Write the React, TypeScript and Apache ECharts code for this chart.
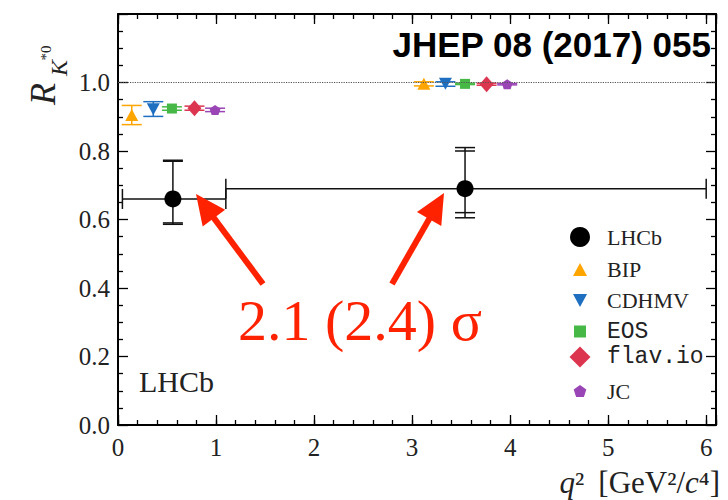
import React, { useEffect, useRef } from 'react';
import * as echarts from 'echarts';

// ---- LHCb measurement ----
const lhcbBinLow = [0.045, 1.1];
const lhcbBinHigh = [1.1, 6.0];
const lhcbQ2 = [0.56, 3.54];
const lhcbR = [0.66, 0.69];
const lhcbStatUp = [0.11, 0.11];
const lhcbStatDown = [0.07, 0.07];
const lhcbTotUp = [0.113, 0.12];
const lhcbTotDown = [0.074, 0.085];

// ---- theory predictions ----
const models = ['BIP', 'CDHMV', 'EOS', 'flav.io', 'JC'];
const lowQ2 = [0.14, 0.36, 0.55, 0.78, 0.99];
const lowR = [0.905, 0.922, 0.924, 0.925, 0.92];
const lowUp = [0.028, 0.022, 0.005, 0.006, 0.005];
const lowDown = [0.028, 0.021, 0.005, 0.006, 0.005];
const centQ2 = [3.12, 3.34, 3.54, 3.76, 3.97];
const centR = [0.996, 0.996, 0.996, 0.995, 0.995];
const centUp = [0.006, 0.006, 0.002, 0.003, 0.002];
const centDown = [0.006, 0.007, 0.002, 0.003, 0.002];

const referenceR = 1.0;

// ---- ticks ----
const xTickLabels = ['0', '1', '2', '3', '4', '5', '6'];
const yTickLabels = ['0.0', '0.2', '0.4', '0.6', '0.8', '1.0'];

// ---- styles ----
const SERIF = 'Liberation Serif';
const MONO = 'Liberation Mono';
const RED = '#FF2200';
const modelColors = ['#FFA500', '#1F6FC1', '#45B845', '#DC3550', '#9A45B5'];
const TRI_UP = 'path://M1,0 L2,1.85 L0,1.85 Z';
const TRI_DOWN = 'path://M0,0 L2,0 L1,1.85 Z';
const SQUARE = 'path://M0,0 L1,0 L1,1 L0,1 Z';
const DIAMOND = 'path://M1,0 L2,1 L1,2 L0,1 Z';
const PENTAGON = 'path://M1,0 L1.951,0.691 L1.588,1.809 L0.412,1.809 L0.049,0.691 Z';
const modelSymbols = ['triangle', TRI_DOWN, 'rect', 'diamond', PENTAGON];
const modelSymbolSize = [[13, 12], [13, 12], [10, 10], [14, 16], [11, 10]];

function makeTheoryErr(color: string) {
  return (params: any, api: any) => {
    const x = api.value(0);
    const lo = api.coord([x, api.value(1)]);
    const hi = api.coord([x, api.value(2)]);
    const c = 10;
    const style = { stroke: color, lineWidth: 1.5 };
    return {
      type: 'group',
      children: [
        { type: 'line', shape: { x1: lo[0], y1: lo[1], x2: hi[0], y2: hi[1] }, style },
        { type: 'line', shape: { x1: lo[0] - c, y1: lo[1], x2: lo[0] + c, y2: lo[1] }, style },
        { type: 'line', shape: { x1: hi[0] - c, y1: hi[1], x2: hi[0] + c, y2: hi[1] }, style },
      ],
    };
  };
}

function lhcbErr(params: any, api: any) {
  const x = api.value(0);
  const y = api.value(1);
  const pxl = api.coord([api.value(2), y]);
  const pxh = api.coord([api.value(3), y]);
  const psl = api.coord([x, api.value(4)]);
  const psh = api.coord([x, api.value(5)]);
  const ptl = api.coord([x, api.value(6)]);
  const pth = api.coord([x, api.value(7)]);
  const c = 10;
  const style = { stroke: '#111', lineWidth: 1.5 };
  const hl = (p: number[]) => ({ type: 'line', shape: { x1: p[0] - c, y1: p[1], x2: p[0] + c, y2: p[1] }, style });
  const vl = (p: number[]) => ({ type: 'line', shape: { x1: p[0], y1: p[1] - c, x2: p[0], y2: p[1] + c }, style });
  return {
    type: 'group',
    children: [
      { type: 'line', shape: { x1: pxl[0], y1: pxl[1], x2: pxh[0], y2: pxh[1] }, style },
      vl(pxl),
      vl(pxh),
      { type: 'line', shape: { x1: ptl[0], y1: ptl[1], x2: pth[0], y2: pth[1] }, style },
      hl(psl),
      hl(psh),
      hl(ptl),
      hl(pth),
    ],
  };
}

function arrow(tail: number[], tip: number[]) {
  const dx = tip[0] - tail[0];
  const dy = tip[1] - tail[1];
  const len = Math.hypot(dx, dy);
  const ux = dx / len;
  const uy = dy / len;
  const L = 30;
  const W = 14;
  const bx = tip[0] - ux * L;
  const by = tip[1] - uy * L;
  return [
    {
      type: 'line',
      z: 100,
      shape: { x1: tail[0], y1: tail[1], x2: bx + ux * 3, y2: by + uy * 3 },
      style: { stroke: RED, lineWidth: 6 },
    },
    {
      type: 'polygon',
      z: 100,
      shape: { points: [tip, [bx - uy * W, by + ux * W], [bx + uy * W, by - ux * W]] },
      style: { fill: RED },
    },
  ];
}

export default function App() {
  const ref = useRef<HTMLDivElement>(null);

  useEffect(() => {
    document.body.style.margin = '0';
    if (!ref.current) return;
    const chart = echarts.init(ref.current, null, { renderer: 'svg' });

    const tickStyle = { color: '#000', width: 1.3 };
    const lineStyle = { color: '#000', width: 2 };

    const majorX = (position: string, showLabel: boolean) => ({
      type: 'value',
      position,
      min: 0,
      max: 6.1,
      interval: 1,
      axisLine: { show: true, onZero: false, lineStyle },
      axisTick: { show: true, inside: true, length: 10, lineStyle: tickStyle },
      axisLabel: {
        show: showLabel,
        margin: 10,
        fontFamily: SERIF,
        fontSize: 25,
        color: '#222',
        formatter: (v: number) => (Number.isInteger(v) ? xTickLabels[v] ?? '' : ''),
      },
      splitLine: { show: false },
    });
    const minorX = (position: string) => ({
      type: 'value',
      position,
      min: 0,
      max: 6.1,
      interval: 0.2,
      axisLine: { show: false, onZero: false },
      axisTick: { show: true, inside: true, length: 5, lineStyle: tickStyle },
      axisLabel: { show: false },
      splitLine: { show: false },
    });
    const yAx = (position: string, showLabel: boolean) => ({
      type: 'value',
      position,
      min: 0,
      max: 1.2,
      interval: 0.2,
      axisLine: { show: true, onZero: false, lineStyle },
      axisTick: { show: true, inside: true, length: 10, lineStyle: tickStyle },
      minorTick: { show: true, splitNumber: 4, length: 5, lineStyle: tickStyle },
      axisLabel: {
        show: showLabel,
        margin: 8,
        fontFamily: SERIF,
        fontSize: 25,
        color: '#222',
        formatter: (v: number) => yTickLabels[Math.round(v / 0.2)] ?? '',
      },
      splitLine: { show: false },
      minorSplitLine: { show: false },
    });

    const series: any[] = [];
    series.push({
      type: 'custom',
      name: 'LHCb-err',
      z: 2,
      renderItem: lhcbErr,
      encode: { x: 0, y: 1 },
      data: lhcbQ2.map((q, i) => [
        q,
        lhcbR[i],
        lhcbBinLow[i],
        lhcbBinHigh[i],
        lhcbR[i] - lhcbStatDown[i],
        lhcbR[i] + lhcbStatUp[i],
        lhcbR[i] - lhcbTotDown[i],
        lhcbR[i] + lhcbTotUp[i],
      ]),
    });
    models.forEach((m, k) => {
      series.push({
        type: 'custom',
        name: m + '-err',
        z: 2,
        renderItem: makeTheoryErr(modelColors[k]),
        encode: { x: 0, y: 1 },
        data: [
          [lowQ2[k], lowR[k] - lowDown[k], lowR[k] + lowUp[k]],
          [centQ2[k], centR[k] - centDown[k], centR[k] + centUp[k]],
        ],
      });
    });
    series.push({
      type: 'scatter',
      name: 'LHCb',
      z: 4,
      symbol: 'circle',
      symbolSize: 17,
      itemStyle: { color: '#000', opacity: 1 },
      data: lhcbQ2.map((q, i) => [q, lhcbR[i]]),
      markLine: {
        silent: true,
        symbol: 'none',
        label: { show: false },
        lineStyle: { type: 'dotted', color: '#555', width: 1.2 },
        data: [{ yAxis: referenceR }],
      },
    });
    models.forEach((m, k) => {
      series.push({
        type: 'scatter',
        name: m,
        z: 4,
        symbol: modelSymbols[k],
        symbolSize: modelSymbolSize[k],
        itemStyle: { color: modelColors[k], opacity: 1 },
        data: [
          [lowQ2[k], lowR[k]],
          [centQ2[k], centR[k]],
        ],
      });
    });

    const legendNames = ['LHCb', ...models];
    const legendIcons = ['circle', TRI_UP, TRI_DOWN, SQUARE, DIAMOND, PENTAGON];
    const legendIconH = [20, 13, 13, 12, 21, 12];
    const legendIconW = [20, 14, 14, 12, 21, 12.6];
    const legendRowY = [236, 265, 296, 326, 356, 386];
    const legendFont = [SERIF, SERIF, SERIF, MONO, MONO, SERIF];
    const legendFontSize = [22, 22, 22, 23, 23, 22];

    const legend = legendNames.map((name, i) => ({
      data: [{ name, icon: legendIcons[i] }],
      orient: 'vertical',
      left: 580 - legendIconW[i] / 2,
      top: legendRowY[i] - legendIconH[i] / 2,
      padding: 0,
      itemWidth: 44,
      itemHeight: legendIconH[i],
      itemGap: 0,
      symbolKeepAspect: true,
      selectedMode: false,
      textStyle: { fontFamily: legendFont[i], fontSize: legendFontSize[i], color: '#222', lineHeight: 10 },
    }));

    const xLabelRich = {
      n: { fontFamily: SERIF, fontSize: 31, lineHeight: 30, color: '#222' },
      i: { fontFamily: SERIF, fontSize: 31, fontStyle: 'italic', lineHeight: 30, color: '#222' },
      sp: { width: 14, lineHeight: 30 },
    };

    chart.setOption({
      animation: false,
      backgroundColor: '#fff',
      grid: { left: 118, right: 12, top: 14, bottom: 75, containLabel: false, outerBoundsMode: 'none' },
      xAxis: [majorX('bottom', true), majorX('top', false), minorX('bottom'), minorX('top')],
      yAxis: [yAx('left', true), yAx('right', false)],
      legend,
      series,
      graphic: [
        {
          type: 'text',
          x: 711,
          y: 44,
          z: 100,
          style: {
            text: 'JHEP 08 (2017) 055',
            fontFamily: 'Liberation Sans',
            fontWeight: 'bold',
            fontSize: 35,
            fill: '#000',
            align: 'right',
            verticalAlign: 'middle',
          },
        },
        {
          type: 'text',
          x: 139,
          y: 381,
          z: 100,
          style: { text: 'LHCb', fontFamily: SERIF, fontSize: 30, fill: '#222', align: 'left', verticalAlign: 'middle' },
        },
        {
          type: 'text',
          x: 42.5,
          y: 94,
          rotation: Math.PI / 2,
          z: 100,
          style: { text: 'R', fontFamily: SERIF, fontStyle: 'italic', fontSize: 36, fill: '#222', align: 'center', verticalAlign: 'middle' },
        },
        {
          type: 'text',
          x: 58.5,
          y: 68,
          rotation: Math.PI / 2,
          z: 100,
          style: { text: 'K', fontFamily: SERIF, fontStyle: 'italic', fontSize: 24, fill: '#222', align: 'center', verticalAlign: 'middle' },
        },
        {
          type: 'text',
          x: 46,
          y: 53,
          rotation: Math.PI / 2,
          z: 100,
          style: { text: '*0', fontFamily: SERIF, fontSize: 15, fill: '#222', align: 'center', verticalAlign: 'middle' },
        },
        {
          type: 'text',
          x: 720,
          y: 497,
          z: 100,
          style: {
            text: '{i|q}{n|²}{sp|}{n|[GeV²/}{i|c}{n|⁴]}',
            rich: xLabelRich,
            fontFamily: SERIF,
            fontSize: 31,
            fill: '#222',
            align: 'right',
            verticalAlign: 'bottom',
          },
        },
        {
          type: 'text',
          x: 360,
          y: 320,
          z: 100,
          style: { text: '2.1 (2.4) σ', fontFamily: SERIF, fontSize: 58, fill: RED, align: 'center', verticalAlign: 'middle' },
        },
        ...arrow([263, 284], [196, 194]),
        ...arrow([392, 284], [444, 193]),
      ],
    });

    return () => chart.dispose();
  }, []);

  return <div ref={ref} style={{ width: 728, height: 500 }} />;
}
